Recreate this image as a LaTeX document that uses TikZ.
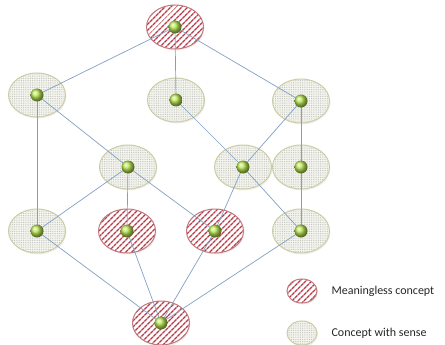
\documentclass[tikz,border=0pt]{standalone}
\usepackage{fontspec}
\setmainfont{Carlito}
\usetikzlibrary{shapes.geometric,patterns.meta,shadows}

\definecolor{linkblue}{RGB}{130,160,195}
\definecolor{hatchred}{RGB}{180,60,75}
\definecolor{rimred}{RGB}{195,120,125}
\definecolor{dotgrey}{RGB}{190,190,185}
\definecolor{senserim}{RGB}{205,205,165}
\definecolor{sensefill}{RGB}{246,246,240}
\definecolor{ballgreen}{RGB}{185,230,80}

\begin{document}
\begin{tikzpicture}[
    x=1pt,y=-1pt,
    concept/.style={
        ellipse,
        minimum width=57pt,
        minimum height=44pt,
        inner sep=0pt,
        line width=1pt,
        drop shadow={opacity=0.12,shadow xshift=1pt,shadow yshift=-1.5pt}
    },
    sense/.style={
        concept,
        draw=senserim,
        preaction={fill=sensefill},
        pattern={Dots[distance=1.8pt,radius=0.5pt]},
        pattern color=dotgrey
    },
    nonsense/.style={
        concept,
        draw=rimred,
        preaction={fill=white},
        pattern={Lines[angle=45,distance=4pt,line width=1.5pt]},
        pattern color=hatchred
    },
    small/.style={minimum width=30pt,minimum height=24pt},
    ball/.style={circle,minimum size=13pt,inner sep=0pt,shading=ball,ball color=ballgreen},
    link/.style={draw=linkblue,line width=0.7pt},
    legend/.style={anchor=west,font=\fontsize{12}{14}\selectfont,text=black!85}
]
  \useasboundingbox (0,0) rectangle (445,345);

  % lattice
  \node[nonsense] (top) at (175,27) {};

  \node[sense] (a1) at (37,95) {};
  \node[sense] (a2) at (176,100) {};
  \node[sense] (a3) at (301,101) {};

  \node[sense] (b1) at (128,167) {};
  \node[sense] (b2) at (243,167) {};
  \node[sense] (b3) at (301,167) {};

  \node[sense] (c1) at (37,231) {};
  \node[nonsense] (c2) at (127,231) {};
  \node[nonsense] (c3) at (215,231) {};
  \node[sense] (c4) at (301,231) {};

  \node[nonsense] (bot) at (161,323) {};

  \foreach \From/\To in {top/a1,top/a2,top/a3,
                         a1/b1,a1/c1,a2/b2,a3/b2,a3/b3,
                         b1/c1,b1/c2,b1/c3,b2/c3,b2/c4,b3/c4,
                         c1/bot,c2/bot,c3/bot,c4/bot}
    \draw[link] (\From.center) -- (\To.center);

  \foreach \N in {top,a1,a2,a3,b1,b2,b3,c1,c2,c3,c4,bot}
    \node[ball] (\N-dot) at (\N) {};

  % legend
  \node[nonsense,small] (key1) at (302,291) {};
  \node[legend] (key1-text) at (328,291) {Meaningless concept};
  \node[sense,small] (key2) at (302,333) {};
  \node[legend] (key2-text) at (328,333) {Concept with sense};
\end{tikzpicture}
\end{document}
